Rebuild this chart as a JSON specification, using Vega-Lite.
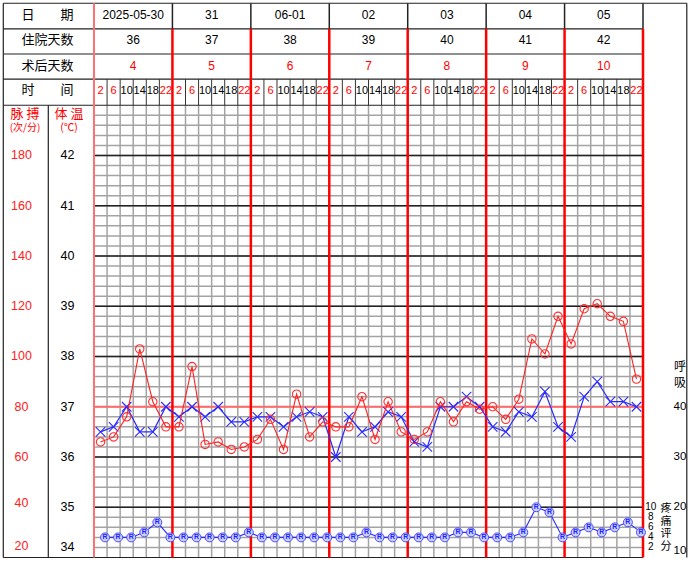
{
"$schema": "https://vega.github.io/schema/vega-lite/v6.json",
"width": 693, "height": 562, "padding": 0, "autosize": {"type": "none"},
"background": "white",
"config": {"view": {"stroke": null}, "axis": {"disable": true}, "text": {"font": "Liberation Sans", "baseline": "middle", "align": "center"}},
"resolve": {"scale": {"x": "independent", "y": "independent"}},
"datasets": {
 "vitals": [
  {"t":2,"h":2,"temp":36.5,"pulse":66,"pain":4},{"t":6,"h":6,"temp":36.6,"pulse":68,"pain":4},{"t":10,"h":10,"temp":37.0,"pulse":76,"pain":4},{"t":14,"h":14,"temp":36.5,"pulse":103,"pain":5},{"t":18,"h":18,"temp":36.5,"pulse":82,"pain":7},{"t":22,"h":22,"temp":37.0,"pulse":72,"pain":4},
  {"t":26,"h":2,"temp":36.8,"pulse":72,"pain":4},{"t":30,"h":6,"temp":37.0,"pulse":96,"pain":4},{"t":34,"h":10,"temp":36.8,"pulse":65,"pain":4},{"t":38,"h":14,"temp":37.0,"pulse":66,"pain":4},{"t":42,"h":18,"temp":36.7,"pulse":63,"pain":4},{"t":46,"h":22,"temp":36.7,"pulse":64,"pain":5},
  {"t":50,"h":2,"temp":36.8,"pulse":67,"pain":4},{"t":54,"h":6,"temp":36.8,"pulse":75,"pain":4},{"t":58,"h":10,"temp":36.6,"pulse":63,"pain":4},{"t":62,"h":14,"temp":36.8,"pulse":85,"pain":4},{"t":66,"h":18,"temp":36.9,"pulse":68,"pain":4},{"t":70,"h":22,"temp":36.8,"pulse":74,"pain":4},
  {"t":74,"h":2,"temp":36.0,"pulse":72,"pain":4},{"t":78,"h":6,"temp":36.8,"pulse":72,"pain":4},{"t":82,"h":10,"temp":36.5,"pulse":84,"pain":5},{"t":86,"h":14,"temp":36.6,"pulse":67,"pain":4},{"t":90,"h":18,"temp":36.9,"pulse":82,"pain":4},{"t":94,"h":22,"temp":36.8,"pulse":70,"pain":4},
  {"t":98,"h":2,"temp":36.3,"pulse":67,"pain":4},{"t":102,"h":6,"temp":36.2,"pulse":70,"pain":4},{"t":106,"h":10,"temp":37.0,"pulse":82,"pain":4},{"t":110,"h":14,"temp":37.0,"pulse":74,"pain":5},{"t":114,"h":18,"temp":37.2,"pulse":82,"pain":5},{"t":118,"h":22,"temp":37.0,"pulse":79,"pain":4},
  {"t":122,"h":2,"temp":36.6,"pulse":80,"pain":4},{"t":126,"h":6,"temp":36.5,"pulse":75,"pain":4},{"t":130,"h":10,"temp":36.9,"pulse":83,"pain":5},{"t":134,"h":14,"temp":36.8,"pulse":107,"pain":10},{"t":138,"h":18,"temp":37.3,"pulse":101,"pain":9},{"t":142,"h":22,"temp":36.6,"pulse":116,"pain":4},
  {"t":146,"h":2,"temp":36.4,"pulse":105,"pain":5},{"t":150,"h":6,"temp":37.2,"pulse":119,"pain":6},{"t":154,"h":10,"temp":37.5,"pulse":121,"pain":5},{"t":158,"h":14,"temp":37.1,"pulse":116,"pain":6},{"t":162,"h":18,"temp":37.1,"pulse":114,"pain":7},{"t":166,"h":22,"temp":37.0,"pulse":91,"pain":5}
 ],
 "days": [
  {"day":0,"date":"2025-05-30","stay":36,"postop":4},{"day":1,"date":"31","stay":37,"postop":5},{"day":2,"date":"06-01","stay":38,"postop":6},{"day":3,"date":"02","stay":39,"postop":7},{"day":4,"date":"03","stay":40,"postop":8},{"day":5,"date":"04","stay":41,"postop":9},{"day":6,"date":"05","stay":42,"postop":10}
 ],
 "vlines": [{"t":0},{"t":4},{"t":8},{"t":12},{"t":16},{"t":20},{"t":24},{"t":28},{"t":32},{"t":36},{"t":40},{"t":44},{"t":48},{"t":52},{"t":56},{"t":60},{"t":64},{"t":68},{"t":72},{"t":76},{"t":80},{"t":84},{"t":88},{"t":92},{"t":96},{"t":100},{"t":104},{"t":108},{"t":112},{"t":116},{"t":120},{"t":124},{"t":128},{"t":132},{"t":136},{"t":140},{"t":144},{"t":148},{"t":152},{"t":156},{"t":160},{"t":164},{"t":168}],
 "hlines": [{"v":34.2},{"v":34.4},{"v":34.6},{"v":34.8},{"v":35},{"v":35.2},{"v":35.4},{"v":35.6},{"v":35.8},{"v":36},{"v":36.2},{"v":36.4},{"v":36.6},{"v":36.8},{"v":37},{"v":37.2},{"v":37.4},{"v":37.6},{"v":37.8},{"v":38},{"v":38.2},{"v":38.4},{"v":38.6},{"v":38.8},{"v":39},{"v":39.2},{"v":39.4},{"v":39.6},{"v":39.8},{"v":40},{"v":40.2},{"v":40.4},{"v":40.6},{"v":40.8},{"v":41},{"v":41.2},{"v":41.4},{"v":41.6},{"v":41.8},{"v":42},{"v":42.2},{"v":42.4},{"v":42.6},{"v":42.8}],
 "tempTicks": [{"v":42},{"v":41},{"v":40},{"v":39},{"v":38},{"v":37},{"v":36},{"v":35},{"v":34}],
 "pulseTicks": [{"v":180},{"v":160},{"v":140},{"v":120},{"v":100},{"v":80},{"v":60},{"v":40},{"v":20}],
 "respTicks": [{"v":40},{"v":30},{"v":20},{"v":10}],
 "painTicks": [{"v":10},{"v":8},{"v":6},{"v":4},{"v":2}],
 "one": [{}]
},
"layer": [
 {"data":{"name":"vlines"},"transform":[{"filter":"datum.t % 24 != 0"}],"mark":{"type":"rule","color":"#a3a3a3","strokeWidth":1.5},
  "encoding":{"x":{"field":"t","type":"quantitative","scale":{"domain":[-28.765,183.301],"nice":false,"zero":false}},"y":{"datum":43,"type":"quantitative","scale":{"domain":[33.9104,45.0945],"nice":false,"zero":false}},"y2":{"datum":34}}},
 {"data":{"name":"hlines"},"mark":{"type":"rule","color":"#a3a3a3","strokeWidth":1.5},
  "encoding":{"y":{"field":"v","type":"quantitative","scale":{"domain":[33.9104,45.0945],"nice":false,"zero":false}},"x":{"datum":0,"type":"quantitative","scale":{"domain":[-28.765,183.301],"nice":false,"zero":false}},"x2":{"datum":168}}},
 {"data":{"name":"hlines"},"transform":[{"filter":"abs(datum.v - round(datum.v)) < 0.01 && datum.v != 37"}],"mark":{"type":"rule","color":"#222222","strokeWidth":1.5},
  "encoding":{"y":{"field":"v","type":"quantitative","scale":{"domain":[33.9104,45.0945],"nice":false,"zero":false}},"x":{"datum":0,"type":"quantitative","scale":{"domain":[-28.765,183.301],"nice":false,"zero":false}},"x2":{"datum":168}}},
 {"data":{"name":"one"},"mark":{"type":"rule","color":"#ff6a6a","strokeWidth":2},
  "encoding":{"y":{"datum":37,"type":"quantitative","scale":{"domain":[33.9104,45.0945],"nice":false,"zero":false}},"x":{"datum":0,"type":"quantitative","scale":{"domain":[-28.765,183.301],"nice":false,"zero":false}},"x2":{"datum":168}}},
 {"data":{"name":"one"},"mark":{"type":"rule","color":"#222222","strokeWidth":1.2},
  "encoding":{"y":{"datum":45.03,"type":"quantitative","scale":{"domain":[33.9104,45.0945],"nice":false,"zero":false}},"x":{"datum":-27.755,"type":"quantitative","scale":{"domain":[-28.765,183.301],"nice":false,"zero":false}},"x2":{"datum":181.4}}},
 {"data":{"name":"one"},"mark":{"type":"rule","color":"#222222","strokeWidth":1.2},
  "encoding":{"y":{"datum":44.52,"type":"quantitative","scale":{"domain":[33.9104,45.0945],"nice":false,"zero":false}},"x":{"datum":-27.755,"type":"quantitative","scale":{"domain":[-28.765,183.301],"nice":false,"zero":false}},"x2":{"datum":168}}},
 {"data":{"name":"one"},"mark":{"type":"rule","color":"#222222","strokeWidth":1.2},
  "encoding":{"y":{"datum":44.02,"type":"quantitative","scale":{"domain":[33.9104,45.0945],"nice":false,"zero":false}},"x":{"datum":-27.755,"type":"quantitative","scale":{"domain":[-28.765,183.301],"nice":false,"zero":false}},"x2":{"datum":168}}},
 {"data":{"name":"one"},"mark":{"type":"rule","color":"#222222","strokeWidth":1.2},
  "encoding":{"y":{"datum":43.52,"type":"quantitative","scale":{"domain":[33.9104,45.0945],"nice":false,"zero":false}},"x":{"datum":-27.755,"type":"quantitative","scale":{"domain":[-28.765,183.301],"nice":false,"zero":false}},"x2":{"datum":168}}},
 {"data":{"name":"one"},"mark":{"type":"rule","color":"#222222","strokeWidth":1.2},
  "encoding":{"y":{"datum":43.0,"type":"quantitative","scale":{"domain":[33.9104,45.0945],"nice":false,"zero":false}},"x":{"datum":-27.755,"type":"quantitative","scale":{"domain":[-28.765,183.301],"nice":false,"zero":false}},"x2":{"datum":168}}},
 {"data":{"name":"one"},"mark":{"type":"rule","color":"#222222","strokeWidth":1.2},
  "encoding":{"y":{"datum":34.0,"type":"quantitative","scale":{"domain":[33.9104,45.0945],"nice":false,"zero":false}},"x":{"datum":-27.755,"type":"quantitative","scale":{"domain":[-28.765,183.301],"nice":false,"zero":false}},"x2":{"datum":168}}},
 {"data":{"name":"one"},"mark":{"type":"rule","color":"#222222","strokeWidth":1.2},
  "encoding":{"x":{"datum":-27.755,"type":"quantitative","scale":{"domain":[-28.765,183.301],"nice":false,"zero":false}},"y":{"datum":45.03,"type":"quantitative","scale":{"domain":[33.9104,45.0945],"nice":false,"zero":false}},"y2":{"datum":34}}},
 {"data":{"name":"one"},"mark":{"type":"rule","color":"#222222","strokeWidth":1.2},
  "encoding":{"x":{"datum":181.4,"type":"quantitative","scale":{"domain":[-28.765,183.301],"nice":false,"zero":false}},"y":{"datum":45.03,"type":"quantitative","scale":{"domain":[33.9104,45.0945],"nice":false,"zero":false}},"y2":{"datum":34}}},
 {"data":{"name":"one"},"mark":{"type":"rule","color":"#222222","strokeWidth":1.2},
  "encoding":{"x":{"datum":-13.985,"type":"quantitative","scale":{"domain":[-28.765,183.301],"nice":false,"zero":false}},"y":{"datum":43.0,"type":"quantitative","scale":{"domain":[33.9104,45.0945],"nice":false,"zero":false}},"y2":{"datum":34}}},
 {"data":{"name":"vlines"},"transform":[{"filter":"datum.t % 24 != 0"}],"mark":{"type":"rule","color":"#333333","strokeWidth":1},
  "encoding":{"x":{"field":"t","type":"quantitative","scale":{"domain":[-28.765,183.301],"nice":false,"zero":false}},"y":{"datum":43.52,"type":"quantitative","scale":{"domain":[33.9104,45.0945],"nice":false,"zero":false}},"y2":{"datum":43.0}}},
 {"data":{"name":"vlines"},"transform":[{"filter":"datum.t % 24 == 0 && datum.t > 0"}],"mark":{"type":"rule","color":"#222222","strokeWidth":1.5},
  "encoding":{"x":{"field":"t","type":"quantitative","scale":{"domain":[-28.765,183.301],"nice":false,"zero":false}},"y":{"datum":45.03,"type":"quantitative","scale":{"domain":[33.9104,45.0945],"nice":false,"zero":false}},"y2":{"datum":44.52}}},
 {"data":{"name":"vlines"},"transform":[{"filter":"datum.t % 24 == 0 && datum.t > 0"}],"mark":{"type":"rule","color":"#ff0000","strokeWidth":2.5},
  "encoding":{"x":{"field":"t","type":"quantitative","scale":{"domain":[-28.765,183.301],"nice":false,"zero":false}},"y":{"datum":44.52,"type":"quantitative","scale":{"domain":[33.9104,45.0945],"nice":false,"zero":false}},"y2":{"datum":34}}},
 {"data":{"name":"one"},"mark":{"type":"rule","color":"#ff7070","strokeWidth":2},
  "encoding":{"x":{"datum":0,"type":"quantitative","scale":{"domain":[-28.765,183.301],"nice":false,"zero":false}},"y":{"datum":45.03,"type":"quantitative","scale":{"domain":[33.9104,45.0945],"nice":false,"zero":false}},"y2":{"datum":34}}},

 {"data":{"name":"vitals"},"mark":{"type":"text","fontSize":11},
  "encoding":{"x":{"field":"t","type":"quantitative","scale":{"domain":[-28.765,183.301],"nice":false,"zero":false}},"y":{"datum":43.28,"type":"quantitative","scale":{"domain":[33.9104,45.0945],"nice":false,"zero":false}},"text":{"field":"h"},
   "color":{"condition":{"test":"datum.h == 2 || datum.h == 6 || datum.h == 22","value":"#ff0000"},"value":"#000000"}}},
 {"data":{"name":"one"},"mark":{"type":"text","text":"日　　期","fontSize":13,"font":"Noto Sans CJK SC","color":"#000000"},
  "encoding":{"x":{"datum":-14.23,"type":"quantitative","scale":{"domain":[-28.765,183.301],"nice":false,"zero":false}},"y":{"datum":44.79,"type":"quantitative","scale":{"domain":[33.9104,45.0945],"nice":false,"zero":false}}}},
 {"data":{"name":"one"},"mark":{"type":"text","text":"住院天数","fontSize":13,"font":"Noto Sans CJK SC","color":"#000000"},
  "encoding":{"x":{"datum":-14.23,"type":"quantitative","scale":{"domain":[-28.765,183.301],"nice":false,"zero":false}},"y":{"datum":44.29,"type":"quantitative","scale":{"domain":[33.9104,45.0945],"nice":false,"zero":false}}}},
 {"data":{"name":"one"},"mark":{"type":"text","text":"术后天数","fontSize":13,"font":"Noto Sans CJK SC","color":"#000000"},
  "encoding":{"x":{"datum":-14.23,"type":"quantitative","scale":{"domain":[-28.765,183.301],"nice":false,"zero":false}},"y":{"datum":43.79,"type":"quantitative","scale":{"domain":[33.9104,45.0945],"nice":false,"zero":false}}}},
 {"data":{"name":"one"},"mark":{"type":"text","text":"时　　间","fontSize":13,"font":"Noto Sans CJK SC","color":"#000000"},
  "encoding":{"x":{"datum":-14.23,"type":"quantitative","scale":{"domain":[-28.765,183.301],"nice":false,"zero":false}},"y":{"datum":43.3,"type":"quantitative","scale":{"domain":[33.9104,45.0945],"nice":false,"zero":false}}}},
 {"data":{"name":"days"},"mark":{"type":"text","fontSize":12,"color":"#000000"},
  "encoding":{"x":{"field":"day","type":"quantitative","scale":{"domain":[-1.69854,7.13754],"nice":false,"zero":false}},"y":{"datum":44.79,"type":"quantitative","scale":{"domain":[33.9104,45.0945],"nice":false,"zero":false}},"text":{"field":"date"}}},
 {"data":{"name":"days"},"mark":{"type":"text","fontSize":12,"color":"#000000"},
  "encoding":{"x":{"field":"day","type":"quantitative","scale":{"domain":[-1.69854,7.13754],"nice":false,"zero":false}},"y":{"datum":44.29,"type":"quantitative","scale":{"domain":[33.9104,45.0945],"nice":false,"zero":false}},"text":{"field":"stay"}}},
 {"data":{"name":"days"},"mark":{"type":"text","fontSize":12,"color":"#ff0000"},
  "encoding":{"x":{"field":"day","type":"quantitative","scale":{"domain":[-1.69854,7.13754],"nice":false,"zero":false}},"y":{"datum":43.79,"type":"quantitative","scale":{"domain":[33.9104,45.0945],"nice":false,"zero":false}},"text":{"field":"postop"}}},
 {"data":{"name":"one"},"mark":{"type":"text","text":"脉 搏","fontSize":13,"font":"Noto Sans CJK SC","color":"#ff0000"},
  "encoding":{"x":{"datum":-21.11,"type":"quantitative","scale":{"domain":[-28.765,183.301],"nice":false,"zero":false}},"y":{"datum":42.83,"type":"quantitative","scale":{"domain":[33.9104,45.0945],"nice":false,"zero":false}}}},
 {"data":{"name":"one"},"mark":{"type":"text","text":"(次/分)","fontSize":10,"font":"Noto Sans CJK SC","color":"#ff0000"},
  "encoding":{"x":{"datum":-21.11,"type":"quantitative","scale":{"domain":[-28.765,183.301],"nice":false,"zero":false}},"y":{"datum":42.54,"type":"quantitative","scale":{"domain":[33.9104,45.0945],"nice":false,"zero":false}}}},
 {"data":{"name":"one"},"mark":{"type":"text","text":"体 温","fontSize":13,"font":"Noto Sans CJK SC","color":"#ff0000"},
  "encoding":{"x":{"datum":-7.65,"type":"quantitative","scale":{"domain":[-28.765,183.301],"nice":false,"zero":false}},"y":{"datum":42.83,"type":"quantitative","scale":{"domain":[33.9104,45.0945],"nice":false,"zero":false}}}},
 {"data":{"name":"one"},"mark":{"type":"text","text":"(℃)","fontSize":10.5,"font":"Noto Sans CJK SC","color":"#ff0000"},
  "encoding":{"x":{"datum":-7.65,"type":"quantitative","scale":{"domain":[-28.765,183.301],"nice":false,"zero":false}},"y":{"datum":42.54,"type":"quantitative","scale":{"domain":[33.9104,45.0945],"nice":false,"zero":false}}}},
 {"data":{"name":"tempTicks"},"transform":[{"filter":"datum.v >= 35"}],"mark":{"type":"text","fontSize":12.5,"color":"#000000"},
  "encoding":{"x":{"datum":-8.11,"type":"quantitative","scale":{"domain":[-28.765,183.301],"nice":false,"zero":false}},"y":{"field":"v","type":"quantitative","scale":{"domain":[33.9104,45.0945],"nice":false,"zero":false}},"text":{"field":"v"}}},
 {"data":{"name":"tempTicks"},"transform":[{"filter":"datum.v < 35"}],"mark":{"type":"text","fontSize":12.5,"color":"#000000","dy":-10},
  "encoding":{"x":{"datum":-8.11,"type":"quantitative","scale":{"domain":[-28.765,183.301],"nice":false,"zero":false}},"y":{"field":"v","type":"quantitative","scale":{"domain":[33.9104,45.0945],"nice":false,"zero":false}},"text":{"field":"v"}}},
 {"data":{"name":"pulseTicks"},"transform":[{"filter":"datum.v >= 60"}],"mark":{"type":"text","fontSize":12.5,"color":"#ff2020"},
  "encoding":{"x":{"datum":-22.19,"type":"quantitative","scale":{"domain":[-28.765,183.301],"nice":false,"zero":false}},"y":{"field":"v","type":"quantitative","scale":{"domain":[18.209,241.89],"nice":false,"zero":false}},"text":{"field":"v"}}},
 {"data":{"name":"pulseTicks"},"transform":[{"filter":"datum.v == 40"}],"mark":{"type":"text","fontSize":12.5,"color":"#ff2020","dy":-4},
  "encoding":{"x":{"datum":-22.19,"type":"quantitative","scale":{"domain":[-28.765,183.301],"nice":false,"zero":false}},"y":{"field":"v","type":"quantitative","scale":{"domain":[18.209,241.89],"nice":false,"zero":false}},"text":{"field":"v"}}},
 {"data":{"name":"pulseTicks"},"transform":[{"filter":"datum.v == 20"}],"mark":{"type":"text","fontSize":12.5,"color":"#ff2020","dy":-12},
  "encoding":{"x":{"datum":-22.19,"type":"quantitative","scale":{"domain":[-28.765,183.301],"nice":false,"zero":false}},"y":{"field":"v","type":"quantitative","scale":{"domain":[18.209,241.89],"nice":false,"zero":false}},"text":{"field":"v"}}},
 {"data":{"name":"one"},"mark":{"type":"text","text":["呼","吸"],"lineHeight":16,"fontSize":12,"font":"Noto Sans CJK SC","color":"#000000"},
  "encoding":{"x":{"datum":179.32,"type":"quantitative","scale":{"domain":[-28.765,183.301],"nice":false,"zero":false}},"y":{"datum":37.79,"type":"quantitative","scale":{"domain":[33.9104,45.0945],"nice":false,"zero":false}}}},
 {"data":{"name":"respTicks"},"transform":[{"filter":"datum.v > 10"}],"mark":{"type":"text","fontSize":11.5,"color":"#000000"},
  "encoding":{"x":{"datum":179.32,"type":"quantitative","scale":{"domain":[-28.765,183.301],"nice":false,"zero":false}},"y":{"field":"v","type":"quantitative","scale":{"domain":[9.104,120.945],"nice":false,"zero":false}},"text":{"field":"v"}}},
 {"data":{"name":"respTicks"},"transform":[{"filter":"datum.v == 10"}],"mark":{"type":"text","fontSize":11.5,"color":"#000000","dy":-6},
  "encoding":{"x":{"datum":179.32,"type":"quantitative","scale":{"domain":[-28.765,183.301],"nice":false,"zero":false}},"y":{"field":"v","type":"quantitative","scale":{"domain":[9.104,120.945],"nice":false,"zero":false}},"text":{"field":"v"}}},
 {"data":{"name":"painTicks"},"mark":{"type":"text","fontSize":10,"color":"#000000"},
  "encoding":{"x":{"datum":170.4,"type":"quantitative","scale":{"domain":[-28.765,183.301],"nice":false,"zero":false}},"y":{"field":"v","type":"quantitative","scale":{"domain":[-0.896,110.945],"nice":false,"zero":false}},"text":{"field":"v"}}},
 {"data":{"name":"one"},"mark":{"type":"text","text":["疼","痛","评","分"],"lineHeight":12.7,"fontSize":11,"font":"Noto Sans CJK SC","color":"#000000"},
  "encoding":{"x":{"datum":175.05,"type":"quantitative","scale":{"domain":[-28.765,183.301],"nice":false,"zero":false}},"y":{"datum":34.965,"type":"quantitative","scale":{"domain":[33.9104,45.0945],"nice":false,"zero":false}}}},

 {"data":{"name":"vitals"},"mark":{"type":"line","color":"#2a2aff","strokeWidth":1.2},
  "encoding":{"x":{"field":"t","type":"quantitative","scale":{"domain":[-28.765,183.301],"nice":false,"zero":false}},"y":{"field":"temp","type":"quantitative","scale":{"domain":[33.9104,45.0945],"nice":false,"zero":false}}}},
 {"data":{"name":"vitals"},"mark":{"type":"point","shape":"M-1,-1L1,1M-1,1L1,-1","size":90,"filled":false,"stroke":"#2a2aff","strokeWidth":1.1,"opacity":1},
  "encoding":{"x":{"field":"t","type":"quantitative","scale":{"domain":[-28.765,183.301],"nice":false,"zero":false}},"y":{"field":"temp","type":"quantitative","scale":{"domain":[33.9104,45.0945],"nice":false,"zero":false}}}},
 {"data":{"name":"vitals"},"mark":{"type":"line","color":"#ff2020","strokeWidth":1.1},
  "encoding":{"x":{"field":"t","type":"quantitative","scale":{"domain":[-28.765,183.301],"nice":false,"zero":false}},"y":{"field":"pulse","type":"quantitative","scale":{"domain":[18.209,241.89],"nice":false,"zero":false}}}},
 {"data":{"name":"vitals"},"mark":{"type":"point","shape":"circle","size":70,"filled":false,"stroke":"#ff3030","strokeWidth":1.1,"opacity":1},
  "encoding":{"x":{"field":"t","type":"quantitative","scale":{"domain":[-28.765,183.301],"nice":false,"zero":false}},"y":{"field":"pulse","type":"quantitative","scale":{"domain":[18.209,241.89],"nice":false,"zero":false}}}},
 {"data":{"name":"vitals"},"mark":{"type":"line","color":"#2a2aff","strokeWidth":1.1,"xOffset":4.5},
  "encoding":{"x":{"field":"t","type":"quantitative","scale":{"domain":[-28.765,183.301],"nice":false,"zero":false}},"y":{"field":"pain","type":"quantitative","scale":{"domain":[-0.896,110.945],"nice":false,"zero":false}}}},
 {"data":{"name":"vitals"},"mark":{"type":"point","shape":"circle","size":80,"filled":true,"fill":"#c9d0ff","stroke":"#4a4aff","strokeWidth":1,"opacity":1,"xOffset":4.5},
  "encoding":{"x":{"field":"t","type":"quantitative","scale":{"domain":[-28.765,183.301],"nice":false,"zero":false}},"y":{"field":"pain","type":"quantitative","scale":{"domain":[-0.896,110.945],"nice":false,"zero":false}}}},
 {"data":{"name":"vitals"},"mark":{"type":"text","text":"R","fontSize":7,"fontWeight":"bold","color":"#2020ff","xOffset":4.5},
  "encoding":{"x":{"field":"t","type":"quantitative","scale":{"domain":[-28.765,183.301],"nice":false,"zero":false}},"y":{"field":"pain","type":"quantitative","scale":{"domain":[-0.896,110.945],"nice":false,"zero":false}}}}
]
}
